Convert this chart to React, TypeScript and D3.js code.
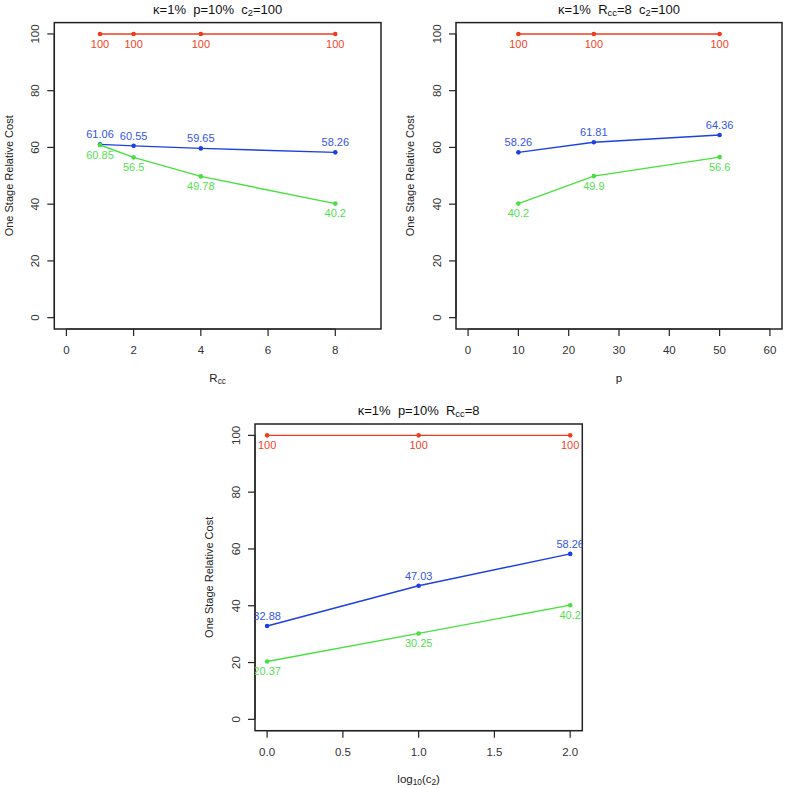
import React from "react";
import * as d3 from "d3";

const yTicks = [0, 20, 40, 60, 80, 100];

const rccX = [1, 2, 4, 8];
const rccRed = [100, 100, 100, 100];
const rccBlue = [61.06, 60.55, 59.65, 58.26];
const rccGreen = [60.85, 56.5, 49.78, 40.2];
const rccTicks = [0, 2, 4, 6, 8];

const pX = [10, 25, 50];
const pRed = [100, 100, 100];
const pBlue = [58.26, 61.81, 64.36];
const pGreen = [40.2, 49.9, 56.6];
const pTicks = [0, 10, 20, 30, 40, 50, 60];

const cX = [0, 1, 2];
const cRed = [100, 100, 100];
const cBlue = [32.88, 47.03, 58.26];
const cGreen = [20.37, 30.25, 40.2];
const cTicks = [0, 0.5, 1, 1.5, 2];

const RED = "#F03C1E";
const BLUE = "#1E40E0";
const GREEN = "#48E040";
const RED_T = "#EE4428";
const BLUE_T = "#3555E8";
const GREEN_T = "#55E050";

const FONT = "'Liberation Sans', Arial, Helvetica, sans-serif";
const SP = "\u00A0\u00A0";

type Series = { values: number[]; color: string; textColor: string; pos: "above" | "below" };

type PanelProps = {
  id: string;
  left: number;
  top: number;
  width: number;
  height: number;
  xlim: [number, number];
  xs: number[];
  xTicks: number[];
  xFmt: (v: number) => string;
  series: Series[];
  title: React.ReactNode;
  xlabel: React.ReactNode;
};

function Panel(props: PanelProps) {
  const { id, left, top, width, height, xlim, xs, xTicks, xFmt, series, title, xlabel } = props;
  const ext = (xlim[1] - xlim[0]) * 0.04;
  const x = d3.scaleLinear().domain([xlim[0] - ext, xlim[1] + ext]).range([left, left + width]);
  const y = d3.scaleLinear().domain([-4, 104]).range([top + height, top]);
  const line = d3
    .line<number>()
    .x((_, i) => x(xs[i]))
    .y((d) => y(d));
  const bottom = top + height;
  const clipId = "clip-" + id;
  return (
    <g>
      <defs>
        <clipPath id={clipId}>
          <rect x={left} y={top} width={width} height={height} />
        </clipPath>
      </defs>
      <text x={left + width / 2} y={top - 13.5} textAnchor="middle" dy="0.35em" fontSize={13} fill="#111">
        {title}
      </text>
      {/* y axis */}
      <line x1={left} x2={left} y1={y(0)} y2={y(100)} stroke="#222" strokeWidth={1.2} />
      {yTicks.map((t) => (
        <g key={"yt" + t}>
          <line x1={left - 7} x2={left} y1={y(t)} y2={y(t)} stroke="#222" strokeWidth={1.2} />
          <text
            transform={`translate(${left - 19.5},${y(t)}) rotate(-90)`}
            textAnchor="middle"
            dy="0.35em"
            fontSize={11.5}
            fill="#333"
          >
            {t}
          </text>
        </g>
      ))}
      {/* x axis */}
      <line
        x1={x(xTicks[0])}
        x2={x(xTicks[xTicks.length - 1])}
        y1={bottom}
        y2={bottom}
        stroke="#222"
        strokeWidth={1.2}
      />
      {xTicks.map((t) => (
        <g key={"xt" + t}>
          <line x1={x(t)} x2={x(t)} y1={bottom} y2={bottom + 7} stroke="#222" strokeWidth={1.2} />
          <text x={x(t)} y={bottom + 21} textAnchor="middle" dy="0.35em" fontSize={11.5} fill="#333">
            {xFmt(t)}
          </text>
        </g>
      ))}
      <text x={left + width / 2} y={bottom + 48.5} textAnchor="middle" dy="0.35em" fontSize={11.5} fill="#222">
        {xlabel}
      </text>
      <text
        transform={`translate(${left - 45.6},${top + height / 2}) rotate(-90)`}
        textAnchor="middle"
        dy="0.35em"
        fontSize={11}
        fill="#222"
      >
        One Stage Relative Cost
      </text>
      {/* box */}
      <rect x={left} y={top} width={width} height={height} fill="none" stroke="#222" strokeWidth={1.5} />
      {/* data */}
      <g clipPath={`url(#${clipId})`}>
        {series.map((s, si) => (
          <g key={"s" + si}>
            <path d={line(s.values) || ""} fill="none" stroke={s.color} strokeWidth={1.4} />
            {s.values.map((v, i) => (
              <circle key={"p" + i} cx={x(xs[i])} cy={y(v)} r={2.3} fill={s.color} />
            ))}
          </g>
        ))}
        {series.map((s, si) => (
          <g key={"l" + si}>
            {s.values.map((v, i) => (
              <text
                key={"t" + i}
                x={x(xs[i])}
                y={y(v) + (s.pos === "above" ? -10 : 10)}
                textAnchor="middle"
                dy="0.35em"
                fontSize={11}
                fill={s.textColor}
              >
                {String(v)}
              </text>
            ))}
          </g>
        ))}
      </g>
    </g>
  );
}

const sub = (t: string) => (
  <tspan fontSize="0.72em" baselineShift="-25%">
    {t}
  </tspan>
);

export default function App() {
  return (
    <svg
      width={787}
      height={788}
      style={{ position: "absolute", left: 0, top: 0, background: "#fff", fontFamily: FONT }}
    >
      <rect x={0} y={0} width={787} height={788} fill="#fff" />
      <Panel
        id="a"
        left={54.3}
        top={22.6}
        width={326.7}
        height={306.4}
        xlim={[0, 9]}
        xs={rccX}
        xTicks={rccTicks}
        xFmt={(v) => String(v)}
        series={[
          { values: rccRed, color: RED, textColor: RED_T, pos: "below" },
          { values: rccBlue, color: BLUE, textColor: BLUE_T, pos: "above" },
          { values: rccGreen, color: GREEN, textColor: GREEN_T, pos: "below" },
        ]}
        title={
          <>
            {"κ=1%" + SP + "p=10%" + SP + "c"}
            {sub("2")}
            <tspan>{"=100"}</tspan>
          </>
        }
        xlabel={
          <>
            {"R"}
            {sub("cc")}
          </>
        }
      />
      <Panel
        id="b"
        left={456}
        top={22.6}
        width={326}
        height={306.4}
        xlim={[0, 60]}
        xs={pX}
        xTicks={pTicks}
        xFmt={(v) => String(v)}
        series={[
          { values: pRed, color: RED, textColor: RED_T, pos: "below" },
          { values: pBlue, color: BLUE, textColor: BLUE_T, pos: "above" },
          { values: pGreen, color: GREEN, textColor: GREEN_T, pos: "below" },
        ]}
        title={
          <>
            {"κ=1%" + SP + "R"}
            {sub("cc")}
            <tspan>{"=8" + SP + "c"}</tspan>
            {sub("2")}
            <tspan>{"=100"}</tspan>
          </>
        }
        xlabel={"p"}
      />
      <Panel
        id="c"
        left={255}
        top={424}
        width={327.3}
        height={306.7}
        xlim={[0, 2]}
        xs={cX}
        xTicks={cTicks}
        xFmt={(v) => d3.format(".1f")(v)}
        series={[
          { values: cRed, color: RED, textColor: RED_T, pos: "below" },
          { values: cBlue, color: BLUE, textColor: BLUE_T, pos: "above" },
          { values: cGreen, color: GREEN, textColor: GREEN_T, pos: "below" },
        ]}
        title={
          <>
            {"κ=1%" + SP + "p=10%" + SP + "R"}
            {sub("cc")}
            <tspan>{"=8"}</tspan>
          </>
        }
        xlabel={
          <>
            {"log"}
            {sub("10")}
            <tspan>{"(c"}</tspan>
            {sub("2")}
            <tspan>{")"}</tspan>
          </>
        }
      />
    </svg>
  );
}
